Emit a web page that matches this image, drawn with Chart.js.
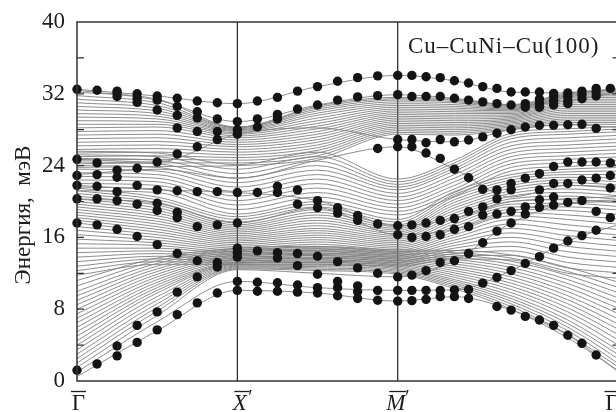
<!DOCTYPE html>
<html>
<head>
<meta charset="utf-8">
<script src="https://cdn.jsdelivr.net/npm/chart.js@4"></script>
<style>
  html, body { margin: 0; padding: 0; background: #fff; overflow: hidden; }
  #wrap { width: 640px; height: 412px; }
</style>
</head>
<body>
<div id="wrap"><canvas id="phonons" width="640" height="412"></canvas></div>
<script>
// path Γ – X' – M' – Γ, lengths in units of Γ–X'
const symPoints = [0, 1, 2, 2 + Math.SQRT2];
const yTicks = [0, 8, 16, 24, 32, 40];

const bandNodes = [0, 0.5, 1, 1.5, 2, 2 + Math.SQRT2 / 4, 2 + Math.SQRT2 / 2, 2 + 3 * Math.SQRT2 / 4, 2 + Math.SQRT2];

// gray slab bands, meV at the nodes above
const bandsLow = [
  [0.5, 5.6, 10.1, 9.8, 8.9, 9.4, 7.9, 5.1, 0.5],
  [1.0, 6.6, 11.1, 10.4, 10.1, 10.15, 12.3, 15.6, 17.6],
  [1.5, 7.3, 12.4, 12.0, 11.6, 13.4, 17.6, 19.8, 20.2],
  [2.0, 7.8, 12.5, 12.3, 11.9, 10.3, 8.0, 4.8, 0.7],
  [2.5, 8.2, 12.6, 12.45, 12.05, 10.5, 8.3, 5.2, 1.1],
  [3.0, 8.6, 12.7, 12.6, 12.2, 10.7, 8.6, 5.6, 1.5],
  [3.5, 9.0, 12.8, 12.75, 12.35, 10.9, 8.9, 6.0, 2.0],
  [4.0, 9.4, 12.9, 12.9, 12.5, 11.1, 9.2, 6.4, 2.5],
  [4.5, 9.8, 13.0, 13.05, 12.65, 11.3, 9.5, 6.8, 3.0],
  [5.0, 10.1, 13.1, 13.2, 12.8, 11.55, 9.85, 7.25, 3.6],
  [5.5, 10.4, 13.2, 13.35, 12.95, 11.8, 10.2, 7.7, 4.2],
  [6.0, 10.7, 13.3, 13.5, 13.1, 12.05, 10.55, 8.15, 4.8],
  [6.5, 11.0, 13.45, 13.65, 13.25, 12.3, 10.9, 8.6, 5.4],
  [7.0, 11.3, 13.6, 13.8, 13.4, 12.55, 11.25, 9.05, 6.0],
  [7.5, 11.6, 13.75, 13.95, 13.55, 12.8, 11.6, 9.5, 6.6],
  [8.0, 11.9, 13.9, 14.1, 13.7, 13.05, 11.95, 9.95, 7.2],
  [8.5, 12.2, 14.05, 14.25, 13.85, 13.3, 12.3, 10.4, 7.8],
  [9.0, 12.5, 14.2, 14.4, 14.0, 13.55, 12.65, 10.85, 8.4],
  [9.5, 12.8, 14.35, 14.55, 14.15, 13.8, 13.0, 11.3, 9.0],
  [10.0, 13.1, 14.5, 14.7, 14.3, 14.05, 13.35, 11.75, 9.6],
  [10.6, 13.4, 14.65, 14.85, 14.45, 14.3, 13.7, 12.2, 10.2],
  [11.2, 13.7, 14.8, 15.0, 14.6, 14.55, 14.05, 12.65, 10.8]
];
const bandsMid = [
  [11.8, 13.0, 13.0, 13.0, 12.8, 13.6, 13.5, 12.0, 11.4],
  [12.3, 13.3, 13.2, 13.25, 13.0, 13.9, 14.0, 12.6, 12.0],
  [12.8, 13.6, 13.4, 13.5, 13.2, 14.2, 14.5, 13.2, 12.6],
  [13.3, 13.9, 13.6, 13.75, 13.4, 14.5, 15.0, 13.8, 13.2],
  [13.8, 14.2, 13.8, 14.0, 13.6, 14.8, 15.5, 14.4, 13.8],
  [14.3, 14.5, 14.0, 14.25, 13.8, 15.1, 16.0, 15.0, 14.4],
  [14.8, 14.8, 14.2, 14.5, 14.0, 15.4, 16.5, 15.6, 15.0],
  [15.3, 15.1, 14.4, 14.75, 14.2, 15.7, 17.0, 16.2, 15.6],
  [15.8, 15.4, 14.6, 15.0, 14.4, 16.0, 17.5, 16.8, 16.2],
  [16.3, 15.7, 14.8, 15.25, 14.6, 16.3, 18.0, 17.4, 16.8],
  [16.8, 16.0, 15.0, 15.5, 14.8, 16.6, 18.4, 18.0, 17.4],
  [17.2, 16.3, 15.2, 15.75, 15.0, 16.9, 18.8, 18.5, 18.0],
  [17.6, 16.6, 15.4, 16.0, 15.2, 17.2, 19.1, 19.0, 18.5],
  [17.9, 16.9, 15.6, 16.25, 15.4, 17.5, 19.4, 19.4, 19.0],
  [18.2, 17.2, 15.8, 16.5, 15.6, 17.8, 19.7, 19.8, 19.4],
  [18.5, 17.5, 16.0, 16.75, 15.8, 18.1, 20.0, 20.2, 19.8],
  [18.8, 17.8, 16.2, 17.0, 16.0, 18.4, 20.3, 20.6, 20.2],
  [19.1, 18.1, 16.4, 17.3, 16.2, 18.7, 20.6, 21.0, 20.6],
  [19.4, 18.4, 16.6, 17.6, 16.4, 19.0, 20.9, 21.4, 21.0],
  [19.7, 18.7, 16.8, 17.9, 16.6, 19.3, 21.2, 21.8, 21.4],
  [20.0, 19.0, 17.0, 18.2, 16.8, 19.6, 21.5, 22.1, 21.8],
  [20.3, 19.3, 17.2, 18.5, 17.0, 19.9, 21.8, 22.4, 22.2],
  [20.6, 19.6, 17.4, 18.8, 17.2, 20.2, 22.1, 22.7, 22.6],
  [20.9, 19.9, 17.7, 19.1, 17.4, 20.5, 22.4, 23.0, 23.0],
  [21.2, 20.2, 18.0, 19.4, 17.7, 20.8, 22.7, 23.3, 23.4],
  [21.5, 20.5, 18.3, 19.7, 18.0, 21.1, 23.0, 23.6, 23.8]
];
const bandsCross = [
  [21.2, 21.0, 18.6, 20.0, 18.5, 20.6, 23.4, 23.9, 24.2],
  [21.6, 21.4, 19.1, 20.5, 18.9, 21.0, 23.8, 24.3, 24.6],
  [22.0, 21.8, 19.6, 21.0, 19.3, 21.4, 24.2, 24.7, 25.0],
  [22.4, 22.2, 20.1, 21.5, 19.7, 21.8, 24.6, 25.1, 25.4],
  [22.8, 22.6, 20.6, 22.0, 20.1, 22.2, 25.0, 25.5, 25.8],
  [23.2, 23.0, 21.1, 22.5, 20.5, 22.6, 25.4, 25.9, 26.2],
  [23.6, 23.4, 21.6, 23.0, 20.9, 23.0, 25.8, 26.3, 26.6],
  [24.0, 23.8, 22.1, 23.5, 21.3, 23.4, 26.2, 26.7, 27.0],
  [24.4, 24.2, 22.6, 24.0, 21.6, 23.7, 26.6, 27.1, 27.4],
  [24.8, 24.6, 23.1, 24.5, 21.9, 24.0, 27.0, 27.5, 27.8],
  [25.2, 25.0, 23.6, 25.0, 22.2, 24.3, 27.3, 27.8, 28.1],
  [25.6, 25.4, 24.1, 25.5, 22.5, 24.6, 27.6, 28.1, 28.4]
];
const bandsUpper = [
  [23.8, 23.9, 24.0, 24.8, 27.5, 27.4, 28.0, 28.6, 28.6],
  [24.2, 24.3, 24.3, 25.1, 27.7, 27.6, 28.15, 28.8, 28.8],
  [24.6, 24.7, 24.6, 25.4, 27.9, 27.8, 28.3, 29.0, 29.0],
  [25.0, 25.1, 24.9, 25.7, 28.1, 28.0, 28.45, 29.2, 29.2],
  [25.4, 25.5, 25.2, 26.0, 28.3, 28.2, 28.6, 29.4, 29.4],
  [25.8, 25.9, 25.5, 26.3, 28.5, 28.4, 28.75, 29.6, 29.6],
  [26.2, 26.3, 25.8, 26.6, 28.7, 28.6, 28.9, 29.8, 29.8],
  [26.6, 26.7, 26.1, 26.9, 28.9, 28.8, 29.05, 30.0, 30.0],
  [27.0, 27.1, 26.35, 27.2, 29.1, 29.0, 29.2, 30.2, 30.2],
  [27.4, 27.5, 26.6, 27.5, 29.3, 29.2, 29.35, 30.4, 30.4],
  [27.8, 27.9, 26.85, 27.8, 29.5, 29.4, 29.5, 30.6, 30.6],
  [28.2, 28.3, 27.1, 28.1, 29.7, 29.6, 29.65, 30.8, 30.8],
  [28.6, 28.6, 27.3, 28.4, 29.9, 29.8, 29.8, 31.0, 31.0],
  [29.0, 28.9, 27.5, 28.7, 30.1, 30.0, 29.95, 31.2, 31.2],
  [29.4, 29.2, 27.65, 29.0, 30.3, 30.2, 30.1, 31.35, 31.4],
  [29.8, 29.5, 27.8, 29.3, 30.5, 30.4, 30.2, 31.5, 31.6],
  [30.2, 29.8, 27.9, 29.6, 30.7, 30.6, 30.3, 31.6, 31.8],
  [30.6, 30.1, 28.0, 29.85, 30.9, 30.8, 30.4, 31.7, 32.0],
  [31.0, 30.4, 28.1, 30.1, 31.1, 31.0, 30.5, 31.8, 32.15],
  [31.4, 30.7, 28.2, 30.3, 31.3, 31.15, 30.6, 31.9, 32.3],
  [31.8, 31.0, 28.25, 30.5, 31.45, 31.3, 30.7, 32.0, 32.45],
  [32.2, 31.4, 28.3, 30.65, 31.6, 31.4, 30.8, 32.1, 32.6]
];
// bands that carry the black localized-mode dots
const bandsTraced = [
  [21.8, 21.3, 21.0, 20.1, 17.3, 18.1, 20.0, 20.3, 20.6],
  [20.3, 19.8, 17.6, 19.3, 16.3, 16.9, 18.9, 19.8, 20.0],
  [24.7, 24.4, 27.5, 28.2, 26.9, 26.65, 28.0, 28.55, 28.2],
  [23.0, 23.6, 22.6, 24.6, 26.1, 23.6, 20.5, 21.8, 21.6],
  [32.5, 31.75, 30.9, 32.8, 34.05, 33.45, 32.2, 32.1, 32.6],
  [32.4, 31.3, 28.9, 30.75, 31.9, 31.5, 30.75, 31.2, 32.3]
];

// black dots: energies at each k step (Γ–X' and X'–M' in 1/8 steps, M'–Γ in 1/16 steps)
const dotsGX = [
  [32.5, 24.7, 22.9, 21.8, 20.3, 17.6, 1.2],
  [32.4, 24.3, 23.0, 21.7, 20.3, 17.4, 1.9],
  [32.3, 32.1, 31.7, 23.5, 22.7, 21.1, 20.1, 16.9, 3.9, 2.8],
  [32.0, 31.5, 31.05, 23.7, 21.8, 19.7, 16.1, 6.2, 4.3],
  [31.75, 31.3, 30.2, 24.4, 21.3, 19.8, 19.0, 15.2, 7.7, 5.7],
  [31.5, 30.6, 29.6, 28.2, 25.3, 21.2, 18.8, 18.2, 14.2, 9.9, 7.4],
  [31.2, 30.0, 29.3, 27.8, 26.1, 21.1, 17.2, 13.4, 11.6, 8.7],
  [31.0, 29.2, 27.8, 26.9, 21.1, 17.4, 13.2, 12.7, 9.8],
  [30.9, 28.9, 28.0, 27.5, 21.0, 17.6, 14.8, 14.3, 13.8, 11.1, 10.1]
];
const dotsXM = [
  [31.2, 29.2, 28.3, 21.0, 14.5, 11.0, 10.0],
  [31.6, 29.7, 29.2, 21.7, 21.0, 14.3, 13.7, 10.95, 10.0],
  [32.3, 30.3, 21.3, 19.7, 14.2, 12.85, 10.7, 9.9],
  [32.8, 30.75, 20.1, 19.3, 13.9, 11.9, 10.4, 9.8],
  [33.4, 31.3, 19.3, 18.7, 13.3, 11.1, 10.4, 9.5],
  [33.8, 31.65, 18.45, 17.9, 12.6, 10.6, 9.95, 9.2],
  [34.0, 31.8, 25.9, 17.5, 12.0, 10.1, 9.0],
  [34.05, 31.9, 26.9, 26.1, 17.3, 16.3, 11.6, 10.1, 8.9]
];
const dotsMG = [
  [34.05, 31.7, 26.9, 26.1, 17.4, 16.0, 11.8, 10.1, 8.95],
  [33.9, 31.7, 26.55, 25.4, 17.6, 16.1, 12.3, 10.1, 9.1],
  [33.8, 31.7, 26.9, 24.8, 17.9, 16.3, 13.2, 10.1, 9.4],
  [33.45, 31.5, 26.65, 23.6, 18.1, 16.9, 13.4, 10.15, 9.4],
  [33.2, 31.3, 26.85, 22.65, 18.9, 17.2, 14.2, 10.2, 9.2],
  [32.8, 31.1, 27.2, 21.35, 19.4, 18.5, 15.4, 10.9],
  [32.6, 30.9, 27.6, 21.3, 20.3, 18.6, 16.7, 11.55, 8.3],
  [32.2, 30.75, 28.0, 22.0, 21.3, 18.9, 17.6, 12.3, 7.9],
  [32.2, 30.9, 30.5, 28.3, 22.6, 19.4, 18.6, 13.1, 7.2],
  [32.2, 31.4, 30.9, 30.5, 28.5, 23.1, 21.3, 20.2, 19.35, 13.85, 6.8],
  [32.05, 31.7, 31.2, 30.75, 28.5, 23.9, 22.0, 20.5, 19.6, 14.8, 6.2],
  [32.1, 31.7, 31.2, 30.9, 28.55, 24.4, 22.0, 19.9, 15.6, 5.1],
  [32.3, 31.9, 31.45, 28.6, 24.4, 22.4, 20.1, 16.2, 4.2],
  [32.6, 32.2, 31.75, 28.15, 24.4, 22.6, 18.9, 16.8, 2.9],
  [32.6, 24.3, 22.9, 21.5, 18.2]
];

const bandSets = [];
[bandsLow, bandsMid, bandsCross, bandsUpper, bandsTraced].forEach(group => {
  group.forEach(row => {
    bandSets.push({
      data: row.map((e, i) => ({ x: bandNodes[i], y: e })),
      showLine: true,
      borderColor: '#808080',
      borderWidth: 0.9,
      pointRadius: 0,
      cubicInterpolationMode: 'monotone',
      order: 2,
      clip: false
    });
  });
});

const dotPoints = [];
dotsGX.forEach((list, i) => list.forEach(e => dotPoints.push({ x: i / 8, y: e })));
dotsXM.forEach((list, j) => list.forEach(e => dotPoints.push({ x: 1 + (j + 1) / 8, y: e })));
dotsMG.forEach((list, m) => list.forEach(e => dotPoints.push({ x: 2 + (m + 1) * Math.SQRT2 / 16, y: e })));

const dotSet = {
  data: dotPoints,
  showLine: false,
  pointRadius: 4.7,
  pointBackgroundColor: '#141414',
  pointBorderWidth: 0,
  order: 1,
  clip: false
};

const serif = '"Liberation Serif", "DejaVu Serif", serif';

const frame = {
  id: 'frame',
  beforeDatasetsDraw(chart) {
    const { ctx, chartArea: a, scales: { x } } = chart;
    ctx.save();
    ctx.strokeStyle = '#222';
    ctx.lineWidth = 1.2;
    [symPoints[1], symPoints[2]].forEach(k => {
      const px = x.getPixelForValue(k);
      ctx.beginPath();
      ctx.moveTo(px, a.top);
      ctx.lineTo(px, a.bottom);
      ctx.stroke();
    });
    ctx.restore();
  },
  afterDraw(chart) {
    const { ctx, chartArea: a, scales: { x, y } } = chart;
    ctx.save();
    ctx.strokeStyle = '#333';
    ctx.lineWidth = 1.5;
    ctx.strokeRect(a.left, a.top, a.right - a.left, a.bottom - a.top);

    // ticks every 4 meV, inside the frame
    ctx.lineWidth = 1.2;
    for (let v = 4; v < 40; v += 4) {
      const py = y.getPixelForValue(v);
      ctx.beginPath();
      ctx.moveTo(a.left, py);
      ctx.lineTo(a.left + 7, py);
      ctx.moveTo(a.right, py);
      ctx.lineTo(a.right - 12, py);
      ctx.stroke();
    }

    ctx.fillStyle = '#1e1e1e';
    ctx.font = '23px ' + serif;
    ctx.textAlign = 'right';
    ctx.textBaseline = 'middle';
    yTicks.forEach(v => ctx.fillText(String(v), a.left - 12, y.getPixelForValue(v)));

    // symmetry point labels with bars
    ctx.textAlign = 'center';
    ctx.textBaseline = 'alphabetic';
    const base = 410;
    const barY = 391.5;
    const labels = [
      { text: 'Γ', italic: false, cx: x.getPixelForValue(symPoints[0]) + 1.5, half: 7.5 },
      { text: 'X', italic: true, cx: x.getPixelForValue(symPoints[1]) + 2.5, half: 7.5 },
      { text: 'M', italic: true, cx: x.getPixelForValue(symPoints[2]) - 2, half: 8.5 },
      { text: 'Γ', italic: false, cx: 612, half: 7.5 }
    ];
    ctx.lineWidth = 1.3;
    ctx.strokeStyle = '#1e1e1e';
    labels.forEach(l => {
      ctx.font = (l.italic ? 'italic ' : '') + '23px ' + serif;
      ctx.fillText(l.text, l.cx, base);
      ctx.beginPath();
      ctx.moveTo(l.cx - l.half + (l.italic ? 2 : 0), barY);
      ctx.lineTo(l.cx + l.half + (l.italic ? 2 : 0), barY);
      ctx.stroke();
      if (l.italic) {
        ctx.font = '20px ' + serif;
        ctx.textAlign = 'left';
        ctx.fillText('′', l.cx + l.half + 1, base - 6);
        ctx.textAlign = 'center';
      }
    });

    // system name
    ctx.font = '23px ' + serif;
    ctx.letterSpacing = '1px';
    ctx.textAlign = 'left';
    ctx.fillText('Cu–CuNi–Cu(100)', 408, 53);

    // axis title
    ctx.letterSpacing = '0px';
    ctx.translate(24, 215);
    ctx.rotate(-Math.PI / 2);
    ctx.textAlign = 'center';
    ctx.textBaseline = 'middle';
    ctx.font = '23px ' + serif;
    ctx.fillText('Энергия,  мэВ', 0, 0);
    ctx.restore();
  }
};

new Chart(document.getElementById('phonons').getContext('2d'), {
  type: 'scatter',
  data: { datasets: [dotSet].concat(bandSets) },
  options: {
    responsive: false,
    animation: false,
    devicePixelRatio: 1,
    events: [],
    layout: { padding: { left: 77, right: 15.5, top: 22, bottom: 31 } },
    plugins: { legend: { display: false }, tooltip: { enabled: false } },
    scales: {
      x: { type: 'linear', min: 0, max: symPoints[3], display: false },
      y: { type: 'linear', min: 0, max: 40, display: false }
    }
  },
  plugins: [frame]
});
</script>
</body>
</html>
